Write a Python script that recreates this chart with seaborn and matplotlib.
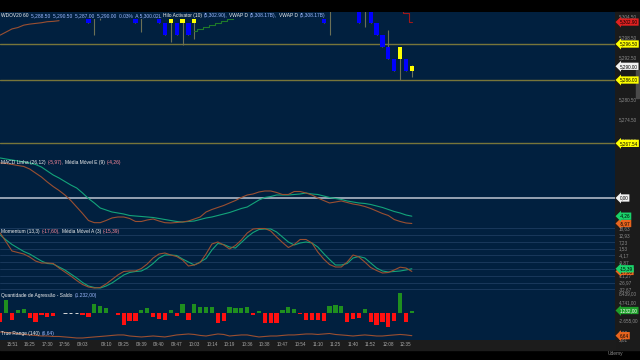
import numpy as np
import pandas as pd
import matplotlib
matplotlib.use("Agg")
import matplotlib.pyplot as plt
import matplotlib.transforms as mtransforms
from matplotlib.patches import Rectangle
from matplotlib.offsetbox import TextArea, HPacker, AnchoredOffsetbox
import seaborn as sns

# ---------------- data ----------------
time_labels = ["15:51", "16:25", "17:30", "17:56", "09:03", "09:10", "09:25", "09:39", "09:40",
               "09:47", "10:03", "10:14", "10:19", "10:36", "10:38", "10:47", "10:54", "11:10",
               "11:25", "11:40", "11:52", "12:08", "12:35"]
time_label_bars = [2, 5, 8, 11, 14, 18, 21, 24, 27, 30, 33, 36, 39, 42, 45, 48, 51, 54,
                   57, 60, 63, 66, 69]

open_ = [5318.5, 5317.0, 5319.0, 5318.0, 5320.0, 5321.5, 5319.5, 5318.0, 5317.5, 5316.5,
         5317.0, 5317.0, 5317.0, 5317.0, 5312.0, 5308.0, 5310.0, 5308.5, 5309.5, 5312.5,
         5314.0, 5313.0, 5310.0, 5309.0, 5310.0, 5309.0, 5312.0, 5308.5, 5302.5, 5302.5,
         5302.5, 5302.5, 5302.5, 5302.5, 5307.5, 5311.0, 5314.0, 5316.5, 5314.0, 5312.5,
         5315.5, 5318.0, 5320.5, 5321.0, 5318.5, 5320.0, 5316.0, 5312.5, 5309.5, 5311.0,
         5313.5, 5314.5, 5314.0, 5310.5, 5308.0, 5307.0, 5309.0, 5310.0, 5312.0, 5311.5,
         5308.5, 5307.5, 5309.0, 5307.0, 5302.5, 5299.0, 5295.5, 5292.0, 5292.0, 5292.0,
         5288.5]
high = [5320.0, 5319.5, 5321.0, 5320.5, 5322.5, 5323.0, 5321.0, 5319.0, 5318.5, 5318.0,
        5317.5, 5317.0, 5317.0, 5317.0, 5314.0, 5309.5, 5311.5, 5311.0, 5313.0, 5315.0,
        5316.0, 5314.5, 5312.0, 5311.5, 5312.0, 5313.0, 5313.5, 5310.0, 5302.5, 5307.5,
        5302.5, 5307.0, 5302.5, 5308.0, 5312.0, 5314.5, 5317.0, 5318.0, 5315.5, 5316.0,
        5318.5, 5321.0, 5322.0, 5321.5, 5320.5, 5320.5, 5316.5, 5313.0, 5312.0, 5314.0,
        5315.0, 5315.0, 5314.5, 5311.0, 5309.0, 5307.5, 5311.0, 5312.5, 5313.0, 5312.0,
        5310.0, 5308.5, 5310.5, 5308.0, 5302.5, 5299.0, 5300.5, 5292.0, 5295.5, 5292.0,
        5290.5]
low = [5316.5, 5315.0, 5317.5, 5316.0, 5318.5, 5319.0, 5317.0, 5316.5, 5316.0, 5315.5,
       5316.5, 5317.0, 5317.0, 5317.0, 5309.5, 5302.5, 5299.0, 5303.5, 5308.0, 5311.0,
       5312.5, 5309.0, 5307.5, 5302.5, 5300.0, 5308.0, 5309.0, 5302.5, 5299.0, 5297.0,
       5299.0, 5296.2, 5299.0, 5298.0, 5306.5, 5310.0, 5313.0, 5313.5, 5311.5, 5312.0,
       5314.5, 5317.0, 5318.5, 5318.0, 5317.0, 5315.5, 5312.0, 5309.0, 5308.5, 5310.5,
       5312.0, 5313.0, 5310.0, 5307.5, 5306.5, 5302.5, 5299.0, 5309.5, 5310.5, 5308.0,
       5307.0, 5302.5, 5301.5, 5302.5, 5299.0, 5295.5, 5292.0, 5288.5, 5286.0, 5288.5,
       5287.0]
close = [5317.0, 5319.0, 5318.0, 5320.0, 5321.5, 5319.5, 5318.0, 5317.5, 5316.5, 5317.0,
         5317.0, 5317.0, 5317.0, 5317.0, 5310.5, 5302.5, 5308.5, 5309.5, 5312.5, 5314.0,
         5313.0, 5310.0, 5311.0, 5302.5, 5309.0, 5312.0, 5310.0, 5302.5, 5299.0, 5307.0,
         5299.0, 5306.5, 5299.0, 5307.5, 5311.0, 5314.0, 5316.5, 5314.0, 5312.5, 5315.5,
         5318.0, 5320.5, 5321.0, 5318.5, 5320.0, 5316.0, 5312.5, 5309.5, 5311.0, 5313.5,
         5314.5, 5314.0, 5310.5, 5308.0, 5307.0, 5302.5, 5310.0, 5312.0, 5311.5, 5308.5,
         5309.0, 5302.5, 5308.0, 5302.5, 5299.0, 5295.5, 5292.0, 5288.5, 5295.5, 5288.5,
         5290.0]
vwap_d = [5299.1, 5300.0, 5300.9, 5301.3, 5302.0, 5302.3, 5302.5, 5302.7, 5303.0, 5303.1, 5303.3]
hilo_up_bars = [33, 34, 35, 36, 37, 38, 39, 40, 41]
hilo_up = [5300.3, 5300.9, 5301.5, 5302.1, 5302.7, 5303.3, 5303.9, 5304.4, 5307.0]
hilo_down_bars = [68, 69, 70]
hilo_down = [5308.0, 5305.6, 5302.9]
price_levels = [5296.50, 5286.00, 5267.54]
price_ticks = [5304.50, 5298.50, 5292.50, 5280.50, 5274.50, 5268.50]

macd_line = [8.20, 8.08, 7.85, 7.61, 7.38, 6.79, 5.85, 4.92, 3.75, 2.69,
             1.76, 0.70, -0.59, -2.11, -3.63, -5.27, -5.78, -5.78, -5.27, -4.68,
             -4.45, -4.45, -4.80, -5.50, -5.50, -5.15, -4.92, -5.39, -5.78, -5.85,
             -5.74, -5.62, -5.39, -4.92, -4.45, -3.28, -2.69, -2.22, -1.76, -1.17,
             -0.59, 0.12, 0.70, 0.94, 1.41, 1.64, 1.64, 1.29, 0.82, 0.82,
             1.52, 1.52, 1.17, 0.70, 0.00, -0.59, -1.17, -0.94, -0.70, -1.05,
             -1.41, -1.64, -1.99, -2.46, -3.04, -3.63, -4.10, -5.04, -5.50, -5.85,
             -5.97]
macd_signal = [9.37, 9.13, 8.90, 8.67, 8.43, 8.20, 7.85, 7.26, 6.32, 5.39,
               4.68, 3.86, 3.04, 2.34, 1.17, -0.12, -1.17, -2.34, -2.81, -3.28,
               -3.51, -3.75, -4.10, -4.22, -4.33, -4.45, -4.57, -4.80, -5.04, -5.27,
               -5.50, -5.62, -5.50, -5.39, -5.04, -4.68, -4.45, -4.10, -3.75, -3.40,
               -2.93, -2.46, -2.11, -1.29, -0.47, 0.12, 0.35, 0.70, 0.70, 0.70,
               0.82, 0.94, 1.17, 0.94, 0.82, 0.47, 0.12, -0.12, -0.35, -0.70,
               -0.94, -1.17, -1.29, -1.52, -1.87, -2.22, -2.69, -3.16, -3.51, -3.98,
               -4.26]
momentum = [14.68, 7.12, -0.45, -1.71, -2.97, -5.49, -8.85, -10.53, -10.53, -10.95,
            -14.73, -18.09, -21.45, -25.24, -28.60, -30.70, -31.54, -31.12, -28.18, -24.40,
            -20.61, -17.67, -17.25, -17.25, -15.15, -11.37, -6.33, -2.97, -2.13, -3.81,
            -5.07, -8.01, -13.05, -12.21, -10.11, -2.97, 5.44, 7.12, 4.60, 1.24,
            4.18, 8.80, 14.68, 18.04, 18.46, 18.46, 16.36, 11.32, 6.70, 2.50,
            5.02, 9.22, 9.22, 6.28, -1.29, -7.17, -11.79, -13.89, -13.89, -9.69,
            -3.81, -5.49, -9.69, -14.31, -16.83, -18.93, -18.51, -16.41, -14.06, -14.73,
            -17.60]
momentum_avg = [13.00, 8.80, 5.02, 2.08, -0.87, -2.97, -5.91, -8.85, -10.95, -11.37,
                -13.89, -16.41, -19.77, -23.13, -26.92, -29.86, -31.12, -31.54, -29.86, -27.34,
                -23.97, -20.61, -18.51, -17.67, -17.25, -14.73, -10.95, -6.33, -3.81, -3.81,
                -4.23, -7.17, -9.69, -12.21, -9.69, -6.75, 0.39, 5.86, 5.02, 2.92,
                2.08, 6.70, 11.32, 15.10, 17.62, 18.04, 18.04, 15.52, 11.32, 7.12,
                4.60, 6.28, 7.12, 6.28, 2.92, -2.55, -7.59, -12.21, -12.21, -10.95,
                -6.33, -5.07, -6.33, -10.53, -14.73, -17.25, -18.09, -17.67, -17.25, -16.41,
                -15.39]
momentum_grid = [18.63, 12.93, 7.23, 1.53, -4.17, -9.87, -15.57, -21.27, -26.97, -32.67]
momentum_ticks = [18.63, 12.93, 7.23, 1.53, -4.17, -9.87, -21.27, -26.97, -32.67]
aggression = [-3550, 5400, -2700, 1600, 1900, -1800, -3500, -550, -1350, -1100,
              200, 0, 0, 0, -800, -1350, 3900, 3200, 2300, 400,
              -550, -4600, -3250, -3250, 1600, 2300, -1500, -2150, -2850, 1500,
              -950, 3900, -2850, 4050, 2850, 2850, 2850, -3800, -3100, 2700,
              2300, 2300, 2700, -700, 1200, -3800, -3800, -3800, 1600, 2550,
              1900, -400, -2700, -2700, -2700, -3100, 3000, 3650, 3000, -3500,
              -2150, -1900, 1900, -3500, -4850, -3500, -6500, -3100, 8400, -3500,
              1232]
aggression_ticks = [8439, 4741, -2655]
true_range = [6.68, 6.62, 6.56, 6.49, 6.37, 6.31, 6.25, 6.18, 6.18, 6.12,
              6.12, 6.06, 6.00, 5.93, 5.93, 6.00, 6.06, 6.12, 6.18, 6.25,
              6.31, 6.31, 6.18, 6.12, 6.06, 6.12, 6.18, 6.12, 6.06, 6.18,
              6.31, 6.37, 6.43, 6.37, 6.25, 6.18, 6.31, 6.43, 6.37, 6.18,
              6.25, 6.31, 6.31, 6.18, 6.06, 6.12, 6.18, 6.18, 6.25, 6.31,
              6.31, 6.37, 6.43, 6.43, 6.37, 6.43, 6.49, 6.37, 6.31, 6.25,
              6.18, 6.25, 6.31, 6.25, 6.18, 6.18, 6.25, 6.31, 6.37, 6.31,
              6.22]
true_range_ticks = [6.68, 5.81]

# ---------------- style ----------------
sns.set_theme(style="dark")
plt.rcParams["font.family"] = ["Liberation Sans", "DejaVu Sans"]

NAVY = "#01203f"
GUTTER = "#1b1b1b"
BROWN = "#9a4f31"
TEAL = "#13a47a"
BLUE = "#0000ff"
YELLOW = "#ffff00"
WICK = "#6c7056"
OLIVE = "#77753a"
AGG_G = "#1f8f1f"
AGG_R = "#ff1010"
WHITE = "#f0f0f0"
LBLUE = "#9fbaff"
PINK = "#ff8a9a"
TICKC = "#8c8c8c"
TFS = 3.3
LFS = 3.5

W, H = 640, 360
XR = 615
PX_PER_BAR = 5.88
XLIM = (-0.25 / PX_PER_BAR, (XR - 0.25) / PX_PER_BAR)

fig = plt.figure(figsize=(6.4, 3.6), dpi=100, facecolor="black")
fig.add_artist(Rectangle((XR / W, 1 - 350 / H), (W - XR) / W, 338 / H, transform=fig.transFigure,
                         color=GUTTER, zorder=-2))
fig.add_artist(Rectangle((0, 1 - 350 / H), XR / W, 10 / H, transform=fig.transFigure,
                         color="#1c1c1c", zorder=-2))
fig.add_artist(Rectangle((636 / W, 1 - 98 / H), 3 / W, 28 / H, transform=fig.transFigure,
                         color="#4a4a4a", zorder=-1))

idx = np.arange(len(close))


def panel(y0, y1, ylim):
    ax = fig.add_axes([0, 1 - y1 / H, XR / W, (y1 - y0) / H])
    ax.set_facecolor(NAVY)
    for s in ax.spines.values():
        s.set_visible(False)
    ax.grid(False)
    ax.set_xlim(XLIM)
    ax.set_ylim(ylim)
    return ax


def finish(ax, ticks, labels):
    ax.set_xlim(XLIM)
    ax.set_xticks([])
    ax.set_xlabel("")
    ax.set_ylabel("")
    ax.yaxis.tick_right()
    ax.set_yticks(ticks)
    ax.set_yticklabels(labels)
    ax.tick_params(axis="y", length=0, pad=2.5, labelsize=TFS, labelcolor=TICKC)


def tag(ax, yval, text, fc, tc="black", z=10):
    tr = mtransforms.blended_transform_factory(ax.transAxes, ax.transData)
    ax.text(1.0 + 4.5 / XR, yval, text, transform=tr, fontsize=TFS, color=tc, va="center",
            ha="left", clip_on=False, zorder=z,
            bbox=dict(boxstyle="larrow,pad=0.25", fc=fc, ec="none"))


def legend_row(ax, parts, ytop_px, frame=False):
    children = [TextArea(t, textprops=dict(color=c, fontsize=LFS)) for t, c in parts]
    pack = HPacker(children=children, align="baseline", pad=0, sep=1.3)
    box = AnchoredOffsetbox(loc="upper left", child=pack, pad=0.08, borderpad=0,
                            frameon=frame, bbox_to_anchor=(0, 1 - ytop_px / H),
                            bbox_transform=fig.transFigure)
    box.set_zorder(8)
    if frame:
        box.patch.set_facecolor(NAVY)
        box.patch.set_edgecolor("none")
    ax.add_artist(box)


def br(v):
    s = f"{v:,.2f}"
    return s.replace(",", "X").replace(".", ",").replace("X", ".")


# ---------------- price panel ----------------
axp = panel(12, 157, (5263.56, 5305.83))
o = np.array(open_); c = np.array(close)
axp.vlines(idx, low, high, color=WICK, lw=0.8, zorder=2)
axp.bar(idx, np.abs(c - o), bottom=np.minimum(o, c), width=0.72,
        color=np.where(c >= o, YELLOW, BLUE), zorder=3, linewidth=0)
for lvl in price_levels:
    axp.axhline(lvl, color=OLIVE, lw=1.0, zorder=1)
sns.lineplot(x=idx[:len(vwap_d)], y=vwap_d, ax=axp, color=BROWN, lw=0.8, zorder=4)
sns.lineplot(x=hilo_up_bars, y=hilo_up, ax=axp, color="#1f7a2a", lw=0.8,
             drawstyle="steps-mid", zorder=4)
sns.lineplot(x=hilo_down_bars, y=hilo_down, ax=axp, color="#a01818", lw=0.8,
             drawstyle="steps-mid", zorder=4)
finish(axp, price_ticks, [f"{v:,.2f}" for v in price_ticks])
tag(axp, 5302.90, "5,302.90", "#e02020")
tag(axp, 5296.50, "5,296.50", YELLOW)
tag(axp, close[-1], f"{close[-1]:,.2f}", "#f2f2f2")
tag(axp, 5286.00, "5,286.00", YELLOW)
tag(axp, 5267.54, "5,267.54", YELLOW)
legend_row(axp, [("WDOV20 60", WHITE),
                 ("5,288.50  5,290.50  5,287.00  5,290.00  0.03%  A 5,300.02L", LBLUE),
                 ("Hilo Activator (10)", WHITE), ("(5,302.90),", LBLUE),
                 ("VWAP D", WHITE), ("(5,308.17B),", LBLUE),
                 ("VWAP D", WHITE), ("(5,308.17B)", LBLUE)], 12, frame=True)

# ---------------- MACD panel ----------------
axm = panel(157, 226, (-6.56, 9.60))
axm.axhline(0, color="#aeb8c6", lw=1.2, zorder=1)
sns.lineplot(x=idx, y=macd_signal, ax=axm, color=TEAL, lw=0.8, zorder=3)
sns.lineplot(x=idx, y=macd_line, ax=axm, color=BROWN, lw=0.8, zorder=3)
finish(axm, [], [])
tag(axm, 0.0, "0,00", "#f2f2f2")
tag(axm, macd_line[-1], br(macd_line[-1]), "#e8641e")
tag(axm, macd_signal[-1], br(macd_signal[-1]), "#19d26a")
legend_row(axm, [("MACD Linha (26,12)", WHITE), (f"({br(macd_line[-1])}),", PINK),
                 ("Média Móvel E (9)", WHITE), (f"({br(macd_signal[-1])})", PINK)], 158.5)

# ---------------- Momentum panel ----------------
axo = panel(226, 291, (-34.06, 20.56))
for t in momentum_grid:
    axo.axhline(t, color="#1d3c60", lw=0.6, zorder=1)
sns.lineplot(x=idx, y=momentum_avg, ax=axo, color=TEAL, lw=0.8, zorder=3)
sns.lineplot(x=idx, y=momentum, ax=axo, color=BROWN, lw=0.8, zorder=3)
finish(axo, momentum_ticks, [br(v) for v in momentum_ticks])
tag(axo, momentum[-1], br(momentum[-1]), "#e8641e", z=10)
tag(axo, momentum_avg[-1], br(momentum_avg[-1]), "#19d26a", z=11)
legend_row(axo, [("Momentum (13,3)", WHITE), (f"({br(momentum[-1])}),", PINK),
                 ("Média Móvel A (3)", WHITE), (f"({br(momentum_avg[-1])})", PINK)], 227.5)

# ---------------- Aggression panel ----------------
axa = panel(291, 327, (-5549, 9248))
agg_df = pd.DataFrame({"bar": idx, "saldo": aggression})
agg_df["side"] = np.where(agg_df["saldo"] > 0, "compra",
                          np.where(agg_df["saldo"] < 0, "venda", "zero"))
sns.barplot(data=agg_df, x="bar", y="saldo", hue="side",
            palette={"compra": AGG_G, "venda": AGG_R, "zero": "white"},
            native_scale=True, dodge=False, width=0.72, errorbar=None, legend=False,
            saturation=1, ax=axa, linewidth=0)
flat = agg_df[agg_df["side"] == "zero"]["bar"].to_numpy()
axa.hlines(np.zeros(len(flat)), flat - 0.28, flat + 0.28, color="#d8d8d8", lw=0.7, zorder=4)
axa.set_ylim(-5549, 9248)
finish(axa, aggression_ticks, [br(v) for v in aggression_ticks])
tag(axa, aggression[-1], br(aggression[-1]), "#1e9e2a", tc="white")
legend_row(axa, [("Quantidade de Agressão - Saldo", WHITE),
                 (f"({br(aggression[-1])})", LBLUE)], 291.5)

# ---------------- True Range panel ----------------
axt = panel(327, 340, (5.68, 7.30))
sns.lineplot(x=idx, y=true_range, ax=axt, color=BROWN, lw=0.8, zorder=3)
finish(axt, true_range_ticks, [br(v) for v in true_range_ticks])
tag(axt, true_range[-1], "6,64", "#e8641e")
legend_row(axt, [("True Range (140)", WHITE), ("(6,64)", LBLUE)], 330.0)
axt.set_xticks(time_label_bars)
axt.set_xticklabels(time_labels)
axt.tick_params(axis="x", length=0, pad=1.6, labelsize=TFS, labelcolor="#a8a8a8")

fig.text(608 / W, 1 - 354 / H, "Udemy", color="#8a8a8a", fontsize=3.5, va="center", ha="left")

fig.savefig("out.png", dpi=100, facecolor="black")
